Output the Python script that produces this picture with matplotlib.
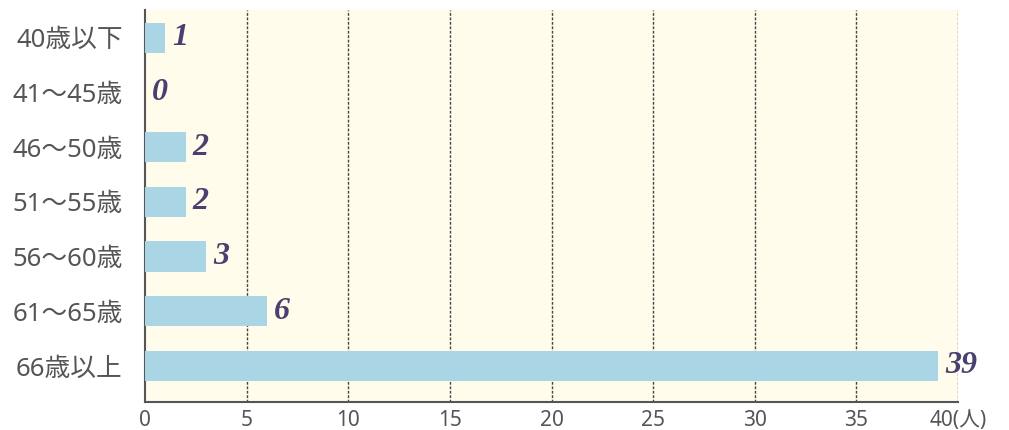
import matplotlib.pyplot as plt
import numpy as np

plt.rcParams['font.family'] = ['Noto Sans', 'Noto Sans CJK JP', 'DejaVu Sans']

# 年齢区分と人数
categories = ['40歳以下', '41～45歳', '46～50歳', '51～55歳', '56～60歳', '61～65歳', '66歳以上']
values = [1, 0, 2, 2, 3, 6, 39]
xticks = [0, 5, 10, 15, 20, 25, 30, 35, 40]
xtick_labels = ['0', '5', '10', '15', '20', '25', '30', '35', '40(人)']

fig = plt.figure(figsize=(10.09, 4.3), dpi=100)
ax = fig.add_axes([0.1437, 0.0651, 0.8058, 0.912])
ax.set_facecolor('#fffcec')

y = np.arange(len(categories))
ax.barh(y, values, height=0.55, color='#a9d5e4', zorder=3)

for yi, v in zip(y, values):
    ax.text(v + 0.35, yi, str(v), va='center', ha='left', fontsize=23,
            fontweight='bold', fontstyle='italic', family='Liberation Serif',
            color='#4a4070', zorder=4)

ax.set_ylim(len(categories) - 1 + 0.66, -0.51)
ax.set_xlim(0, 40)
ax.set_yticks(y)
ax.set_yticklabels(categories, fontsize=18.5, color='#555555')
ax.set_xticks(xticks)
ax.set_xticklabels(xtick_labels, fontsize=15, color='#555555')
ax.tick_params(axis='y', length=0, pad=16)
ax.tick_params(axis='x', length=0, pad=6)

for x in xticks[1:]:
    ax.axvline(x, color='#444444', ls=(0, (2, 1.2)), lw=1, zorder=1)

for s in ['top', 'right']:
    ax.spines[s].set_visible(False)
for s in ['left', 'bottom']:
    ax.spines[s].set_color('#555555')
    ax.spines[s].set_linewidth(1.5)

fig.savefig('out.png', dpi=100)
